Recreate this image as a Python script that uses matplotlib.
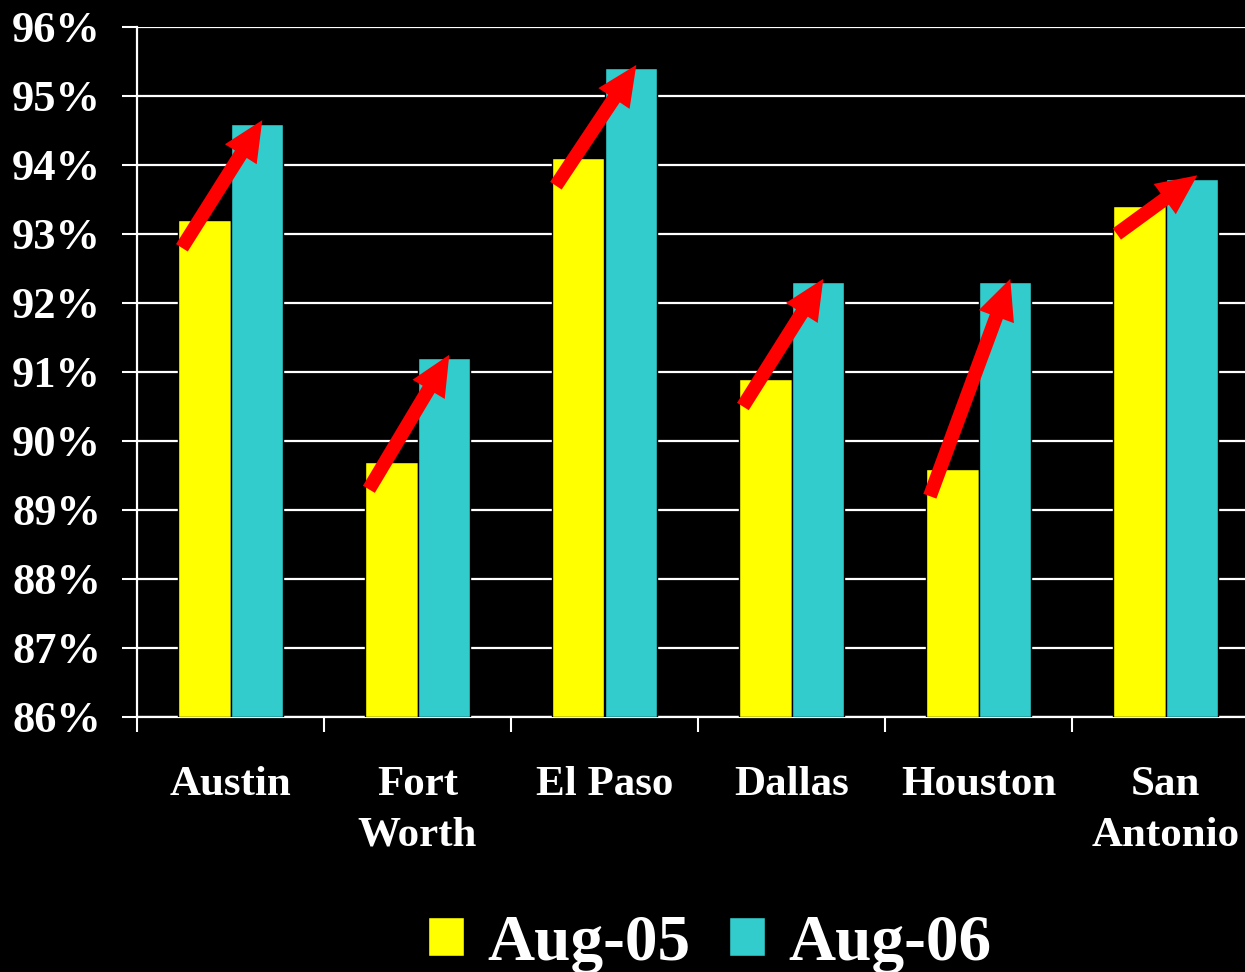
import numpy as np
import matplotlib.pyplot as plt
from matplotlib.ticker import FixedLocator, FuncFormatter

# data
cities = ["Austin", "Fort\nWorth", "El Paso", "Dallas", "Houston", "San\nAntonio"]
aug05 = [93.2, 89.7, 94.1, 90.9, 89.6, 93.4]
aug06 = [94.6, 91.2, 95.4, 92.3, 92.3, 93.8]
series_names = ["Aug-05", "Aug-06"]

yellow = "#FFFF00"
cyan = "#33CCCC"
serif = ["Liberation Serif", "DejaVu Serif"]

fig = plt.figure(figsize=(12.45, 9.72), dpi=100, facecolor="black")
ax = fig.add_axes([137/1245, 255/972, 6*187/1245, 690/972], facecolor="black")

x = np.arange(len(cities)) + 0.5
w = 0.28
b1 = ax.bar(x - w/2, np.array(aug05) - 86, w, bottom=86, color=yellow,
            edgecolor="black", linewidth=1, zorder=3, label=series_names[0])
b2 = ax.bar(x + w/2, np.array(aug06) - 86, w, bottom=86, color=cyan,
            edgecolor="black", linewidth=1, zorder=3, label=series_names[1])

# red arrows from the Aug-05 bar up to the Aug-06 bar
for xi, a, b in zip(x, aug05, aug06):
    ax.annotate("", xy=(xi + 0.17, b + 0.05), xytext=(xi - 0.26, a - 0.4),
                arrowprops=dict(arrowstyle="simple,head_length=2.9,head_width=2.7,tail_width=1.0",
                                color="red", mutation_scale=10, shrinkA=0, shrinkB=0,
                                linewidth=0),
                zorder=5)

ax.set_xlim(0, 6)
ax.set_ylim(86, 96)
ax.set_yticks(np.arange(86, 97, 1))
ax.yaxis.set_major_formatter(FuncFormatter(lambda v, p: f"{v:.0f}%"))
ax.grid(axis="y", color="white", linewidth=1.6, zorder=1)
ax.set_axisbelow(True)

ax.set_xticks(x)
ax.set_xticklabels(cities, fontfamily=serif, fontweight="bold", fontsize=31,
                   color="white", linespacing=1.45)
ax.xaxis.set_minor_locator(FixedLocator(np.arange(0, 7)))
ax.tick_params(axis="x", which="major", length=0, pad=35)
ax.tick_params(axis="x", which="minor", length=11, width=1.5, color="white")
ax.tick_params(axis="y", length=11, width=1.5, color="white", pad=15, labelcolor="white")
for lab in ax.get_yticklabels():
    lab.set_fontfamily(serif)
    lab.set_fontweight("bold")
    lab.set_fontsize(32)

for s in ["top", "right"]:
    ax.spines[s].set_visible(False)
for s in ["left", "bottom"]:
    ax.spines[s].set_color("white")
    ax.spines[s].set_linewidth(1.6)

leg = fig.legend(handles=[b1, b2], loc="center", bbox_to_anchor=(0.57, 0.029),
                 ncol=2, frameon=False, handlelength=0.55, handleheight=0.55,
                 handletextpad=0.35, columnspacing=0.6,
                 prop=dict(family=serif, weight="bold", size=47))
for t in leg.get_texts():
    t.set_color("white")

fig.savefig("out.png", dpi=100, facecolor="black")
